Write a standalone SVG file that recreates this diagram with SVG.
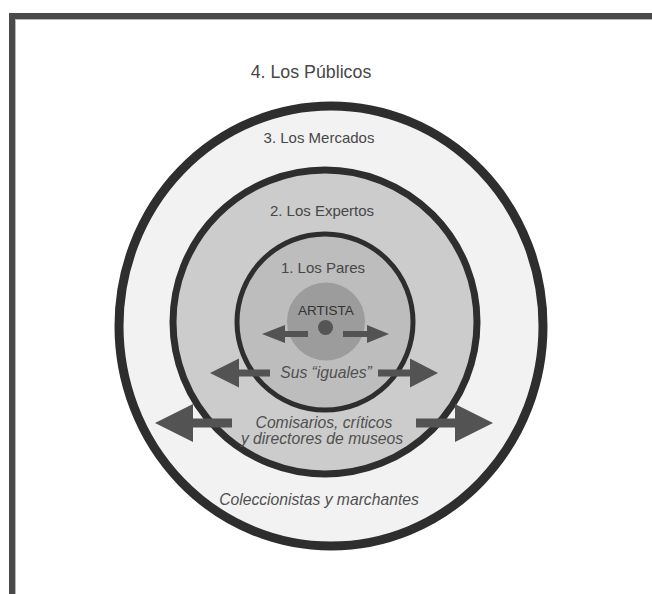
<svg xmlns="http://www.w3.org/2000/svg" width="652" height="594" viewBox="0 0 652 594">
<style>
.lbl{font-family:"Liberation Sans",Arial,sans-serif;font-size:15px;fill:#474747;text-anchor:middle}
.it{font-style:italic;fill:#505050;font-size:15.7px}
.arr{fill:#535353}
.ring{stroke:#2e2e2e}
</style>
<rect x="0" y="0" width="652" height="594" fill="#ffffff"/>
<g id="frame">
<rect x="9" y="13" width="643" height="6" fill="#4a4a4a"/>
<rect x="9" y="13" width="6" height="581" fill="#4a4a4a"/>
<rect x="15" y="19" width="637" height="1" fill="#b8b8b8"/>
<rect x="15" y="19" width="1" height="575" fill="#b8b8b8"/>
</g>
<g id="publicos">
<text class="lbl" x="311" y="78" style="font-size:17.8px">4. Los Públicos</text>
</g>
<g id="mercados">
<ellipse class="ring" cx="331" cy="326" rx="212" ry="220" fill="#f2f2f2" stroke-width="9"/>
<text class="lbl" x="319" y="143">3. Los Mercados</text>
<text class="lbl it" x="319" y="505">Coleccionistas y marchantes</text>
</g>
<g id="expertos">
<circle class="ring" cx="325" cy="322" r="152" fill="#cccccc" stroke-width="7"/>
<text class="lbl" x="322" y="216">2. Los Expertos</text>
<text class="lbl it" x="324" y="428">Comisarios, críticos</text>
<text class="lbl it" x="322" y="444">y directores de museos</text>
</g>
<g id="pares">
<circle class="ring" cx="325" cy="322" r="88" fill="#bdbdbd" stroke-width="5"/>
<text class="lbl" x="323" y="273">1. Los Pares</text>
<text class="lbl it" x="326" y="378">Sus “iguales”</text>
</g>
<g id="artista">
<circle cx="326" cy="321.5" r="39" fill="#9c9c9c"/>
<text class="lbl" x="326" y="315" style="font-size:13.5px;fill:#333333">ARTISTA</text>
<circle cx="325.5" cy="327.5" r="7.5" fill="#555555"/>
</g>
<g id="connectors">
<polygon class="arr" points="262,334 285,325 285,331 308,331 308,337 285,337 285,343"/>
<polygon class="arr" points="389,334 367,325 367,331 343,331 343,337 367,337 367,343"/>
<polygon class="arr" points="210,373 239,358.5 239,369.5 270,369.5 270,376.5 239,376.5 239,387.5"/>
<polygon class="arr" points="438,373 410,358.5 410,369.5 378,369.5 378,376.5 410,376.5 410,387.5"/>
<polygon class="arr" points="155,423 193,404 193,418.5 232,418.5 232,427.5 193,427.5 193,442"/>
<polygon class="arr" points="493,423 455,404 455,418.5 416,418.5 416,427.5 455,427.5 455,442"/>
</g>
</svg>
